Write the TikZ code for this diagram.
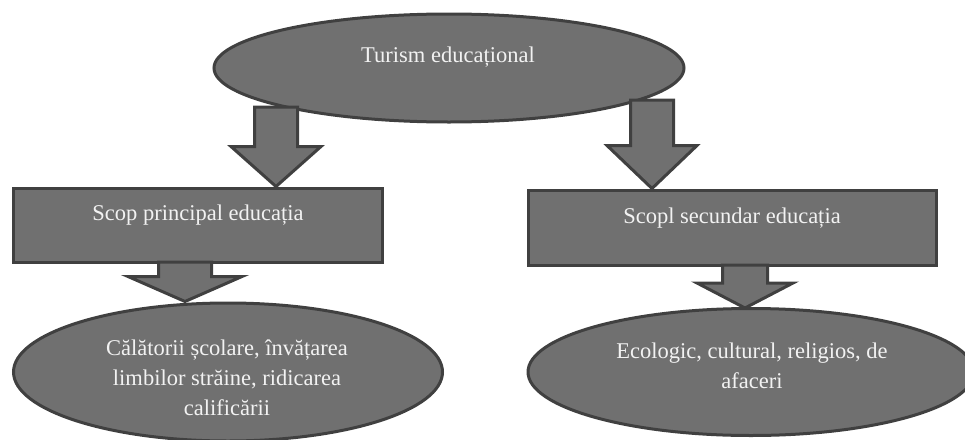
\documentclass[tikz,border=0pt]{standalone}
\usepackage{fontspec}
\setmainfont{Liberation Serif}
\usetikzlibrary{calc,shapes.geometric}
\definecolor{boxfill}{HTML}{707070}
\definecolor{boxline}{HTML}{404040}
\definecolor{boxtext}{HTML}{F2F2F2}
\tikzset{
  shapebase/.style={fill=boxfill, draw=boxline, line width=3pt},
  oval/.style={shapebase, ellipse, inner sep=0pt},
  goalbox/.style={shapebase, rectangle, inner sep=0pt},
  lbl/.style={text=boxtext, font=\fontsize{22.5}{30}\selectfont, align=center, inner sep=0pt},
  arrowbody/.style={shapebase, line join=miter},
}
% block arrow: start, tip, shaft half width, head half width, head length
\newcommand{\fatarrow}[5]{%
  \draw[arrowbody] ($(#1)+(-#3,0)$) -- ($(#2)+(-#3,-#5)$) -- ($(#2)+(-#4,-#5)$)
    -- (#2) -- ($(#2)+(#4,-#5)$) -- ($(#2)+(#3,-#5)$) -- ($(#1)+(#3,0)$) -- cycle;}

\begin{document}
\begin{tikzpicture}[x=1pt,y=-1pt]
\useasboundingbox (0,0) rectangle (965,439);
% Top
\node[oval, minimum width=470pt, minimum height=108pt] (edu) at (449,68) {};
\node[lbl] (eduT) at (448,57) {Turism educațional};
% Goals
\node[goalbox, minimum width=369pt, minimum height=74pt] (mainG) at (197.5,225) {};
\node[lbl] (mainT) at (198,215) {Scop principal educația};
\node[goalbox, minimum width=408pt, minimum height=75pt] (secG) at (732,227.5) {};
\node[lbl] (secT) at (732,218) {Scopl secundar educația};
% Forms
\node[oval, minimum width=429pt, minimum height=138pt] (school) at (228,372) {};
\node[lbl] (schoolT) at (227,378) {Călătorii școlare, învățarea\\limbilor străine, ridicarea\\calificării};
\node[oval, minimum width=446pt, minimum height=127pt] (eco) at (751,372) {};
\node[lbl] (ecoT) at (752,366) {Ecologic, cultural, religios, de\\afaceri};
% Arrows
\coordinate (a1s) at (276,107);
\coordinate (a1e) at (a1s |- mainG.north);
\coordinate (a2s) at (652,100);
\coordinate (a2e) at (a2s |- secG.north);
\coordinate (a3s) at (185,262);
\coordinate (a3e) at (a3s |- school.north);
\coordinate (a4s) at (745,265);
\coordinate (a4e) at (745,308);
\fatarrow{a1s}{a1e}{21.5}{45}{40}
\fatarrow{a2s}{a2e}{21.5}{45}{43}
\fatarrow{a3s}{a3e}{26.5}{57}{25}
\fatarrow{a4s}{a4e}{22.5}{48}{25}
\end{tikzpicture}
\end{document}
